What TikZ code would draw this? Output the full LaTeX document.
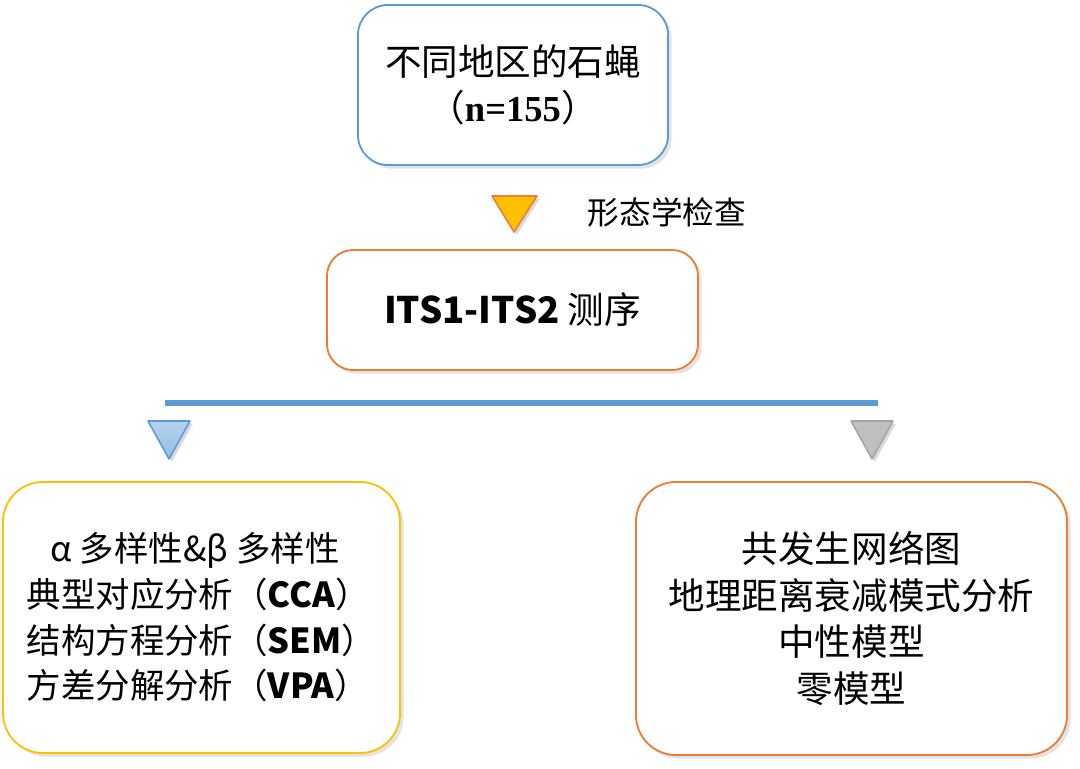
\documentclass[tikz,border=0pt]{standalone}
\usepackage{fontspec}
\setmainfont{Noto Sans CJK SC}
\newfontfamily\numfont{Liberation Serif}
\usepackage{tikz}
\usetikzlibrary{shadows,positioning}
\definecolor{edgeblue}{RGB}{91,155,213}
\definecolor{edgeorange}{RGB}{237,125,49}
\definecolor{edgegold}{RGB}{255,192,0}
\definecolor{trigray}{RGB}{191,191,191}
\definecolor{trigrayline}{RGB}{165,165,165}
\tikzset{
  stagebox/.style={draw=#1,line width=1.3pt,fill=white,rounded corners=0.75cm,inner sep=0pt,
    drop shadow={shadow xshift=0.09cm,shadow yshift=-0.09cm,opacity=0.22}},
  pointer/.style={line width=1.1pt,line join=round,
    drop shadow={shadow xshift=0.07cm,shadow yshift=-0.07cm,opacity=0.3}},
  bigtext/.style={font=\fontsize{26}{33}\selectfont}
}

\begin{document}
\begin{tikzpicture}[x=0.025cm,y=-0.025cm]
  \useasboundingbox (0,0) rectangle (1080,769);
  % boxes
  \node[stagebox=edgeblue,bigtext,align=center,minimum width=7.75cm,minimum height=4cm] (samples) at (513,85)
    {不同地区的石蝇\\（{\numfont\bfseries n=155}）};
  \node[stagebox=edgeorange,bigtext,minimum width=9.275cm,minimum height=3cm,rounded corners=0.65cm] (seq) at (512.5,310) {\textbf{ITS1-ITS2} 测序};
  \node[stagebox=edgegold,font=\fontsize{24.5}{32.5}\selectfont,align=left,minimum width=9.925cm,minimum height=6.775cm,rounded corners=1cm] (diversity) at (201.5,617.5)
    {\hspace*{0.6cm}α 多样性\&β 多样性\\典型对应分析（\textbf{CCA}）\\结构方程分析（\textbf{SEM}）\\方差分解分析（\textbf{VPA}）};
  \node[stagebox=edgeorange,bigtext,align=center,minimum width=10.775cm,minimum height=6.825cm,rounded corners=1cm] (network) at (851.5,618.5)
    {共发生网络图\\地理距离衰减模式分析\\中性模型\\零模型};
  % pointers
  \draw[pointer,edgeorange,fill=edgegold] (492,196) -- (537,196) -- (514,232) -- cycle;
  \node[anchor=west,font=\fontsize{22.5}{26}\selectfont] (morph) at (583,212) {形态学检查};
  \draw[edgeblue,line width=0.15cm] (165,403) -- (878,403);
  \draw[pointer,edgeblue,top color=edgeblue!45,bottom color=edgeblue!65] (148,421) -- (190,421) -- (169,459) -- cycle;
  \draw[pointer,trigrayline,fill=trigray] (851,421) -- (893,421) -- (872,459) -- cycle;
\end{tikzpicture}
\end{document}
